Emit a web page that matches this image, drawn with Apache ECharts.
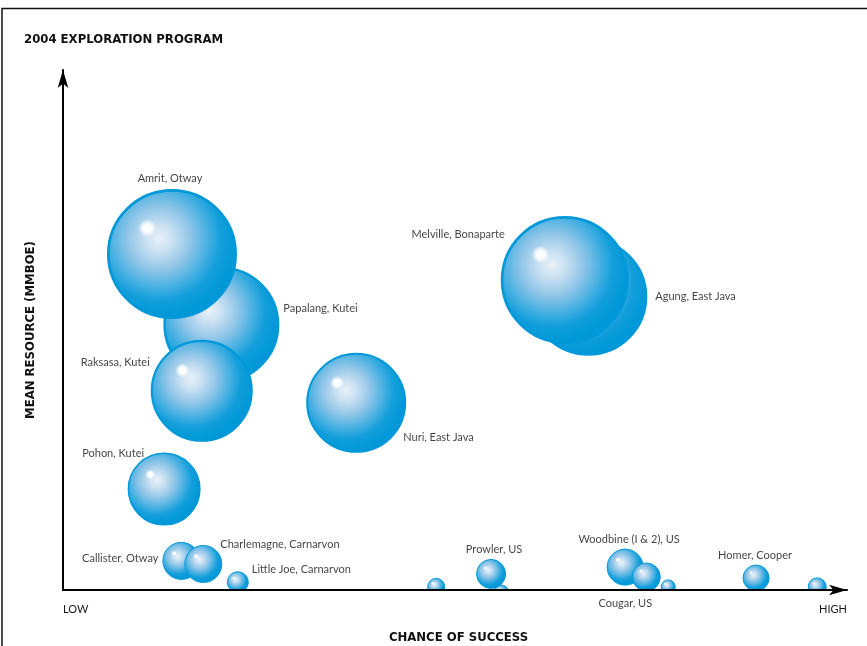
<!DOCTYPE html>
<html><head><meta charset="utf-8">
<script src="https://cdn.jsdelivr.net/npm/echarts@6/dist/echarts.min.js"></script>
<style>html,body{margin:0;padding:0;background:#fff}#c{width:867px;height:646px}</style>
</head><body><div id="c"></div>
<script>
// Draw order matters (later = on top)
const prospects = ['Papalang, Kutei','Amrit, Otway','Raksasa, Kutei','Nuri, East Java','Pohon, Kutei',
  'Agung, East Java','Melville, Bonaparte','Callister, Otway','Charlemagne, Carnarvon','Little Joe, Carnarvon',
  '','','Prowler, US','Woodbine (I & 2), US','Cougar, US','','Homer, Cooper',''];
const chanceOfSuccess = [20.2,13.9,17.7,37.4,12.9,67.0,64.0,15.1,17.9,22.3,47.6,55.9,54.6,71.7,74.4,77.2,88.4,96.2];
const meanResource    = [51.0,64.6,38.3,36.0,19.4,56.4,59.6,5.6,5.0,1.5,0.6,-0.5,3.1,4.4,2.5,0.6,2.3,0.6];
const bubbleValue     = [116,130,102,100,73,118,128,38,38,22,18,16,30,37,29,15,27,19];
const xTickLabels = ['LOW','HIGH'];

const labelCfg = {
  'Amrit, Otway': {position:'top', distance:5, offset:[-2,0]},
  'Papalang, Kutei': {position:'right', distance:4, offset:[0,-16]},
  'Raksasa, Kutei': {position:'left', distance:1, offset:[0,-28]},
  'Nuri, East Java': {position:'right', distance:0, offset:[-3,35]},
  'Pohon, Kutei': {position:'top', distance:0, offset:[-51,6]},
  'Agung, East Java': {position:'right', distance:8, offset:[0,0]},
  'Melville, Bonaparte': {position:'left', distance:0, offset:[4,-46]},
  'Callister, Otway': {position:'left', distance:4, offset:[0,-2]},
  'Charlemagne, Carnarvon': {position:'right', distance:0, offset:[-2,-20]},
  'Little Joe, Carnarvon': {position:'right', distance:3, offset:[0,-13]},
  'Prowler, US': {position:'top', distance:4, offset:[3,0]},
  'Woodbine (I & 2), US': {position:'top', distance:4, offset:[4,0]},
  'Cougar, US': {position:'bottom', distance:6, offset:[-21,0]},
  'Homer, Cooper': {position:'top', distance:4, offset:[-1,0]}
};

const chart = echarts.init(document.getElementById('c'), null, {renderer:'canvas'});
const G = echarts.graphic;
function baseFill(){
  return new G.RadialGradient(0.4, 0.38, 0.6, [
    {offset:0, color:'#e8f1f9'},
    {offset:0.15, color:'#cfe3f3'},
    {offset:0.4, color:'#92c6e8'},
    {offset:0.65, color:'#40aee1'},
    {offset:0.8, color:'#129edb'},
    {offset:1, color:'#0098d8'}
  ]);
}
function spotFill(){
  return new G.RadialGradient(0.5, 0.5, 0.5, [
    {offset:0, color:'rgba(255,255,255,1)'},
    {offset:0.45, color:'rgba(255,255,255,0.95)'},
    {offset:1, color:'rgba(255,255,255,0)'}
  ]);
}
const raw = prospects.map((n,i)=>[chanceOfSuccess[i], meanResource[i], bubbleValue[i]]);
const labelData = prospects.map((n,i)=>{
  const cfg = labelCfg[n];
  return {name:n, value:raw[i], label: cfg ? Object.assign({show:true}, cfg) : {show:false}};
});
const font = "'DejaVu Sans Condensed','Liberation Sans Narrow','DejaVu Sans',sans-serif";
const option = {
  animation:false,
  backgroundColor:'#fff',
  title:{text:'2004 EXPLORATION PROGRAM', left:19, top:28,
    textStyle:{fontFamily:font, fontWeight:'bold', fontSize:13, color:'#111'}},
  graphic:[{type:'polyline', shape:{points:[[2,646],[2,8.5],[867,8.5]]}, style:{stroke:'#111', lineWidth:1.5, fill:null}, silent:true}],
  grid:{left:63, right:20, top:70, bottom:56, outerBoundsMode:'none', containLabel:false},
  xAxis:{type:'value', min:0, max:100, interval:100, z:5,
    name:'CHANCE OF SUCCESS', nameLocation:'middle', nameGap:41,
    nameTextStyle:{fontFamily:font, fontWeight:'bold', fontSize:13, color:'#111', padding:[0,0,0,7]},
    axisLine:{show:true, lineStyle:{color:'#000', width:2}, symbol:['none','arrow'], symbolSize:[8,18]},
    axisTick:{show:false}, splitLine:{show:false},
    axisLabel:{show:true, margin:14, fontFamily:'Lato', fontSize:11, color:'#1a1a1a',
      alignMinLabel:'left', alignMaxLabel:'right',
      formatter:(v)=> v===0 ? xTickLabels[0] : (v===100 ? xTickLabels[1] : '')}
  },
  yAxis:{type:'value', min:0, max:100, z:5,
    name:'MEAN RESOURCE (MMBOE)', nameLocation:'middle', nameGap:26,
    nameTextStyle:{fontFamily:font, fontWeight:'bold', fontSize:13, color:'#111'},
    axisLine:{show:true, lineStyle:{color:'#000', width:2}, symbol:['none','arrow'], symbolSize:[8,18]},
    axisTick:{show:false}, splitLine:{show:false}, axisLabel:{show:false}
  },
  series:[{
    type:'custom', clip:true, z:2,
    encode:{x:0, y:1},
    data:raw,
    renderItem:(params, api)=>{
      const p = api.coord([api.value(0), api.value(1)]);
      const d = api.value(2);
      const lw = Math.max(1, d*0.02);
      return {type:'group', children:[
        {type:'circle', shape:{cx:p[0], cy:p[1], r:d/2 - lw/2},
          style:{fill:baseFill(), stroke:'#0098d8', lineWidth:lw}},
        {type:'circle', shape:{cx:p[0]-0.19*d, cy:p[1]-0.2*d, r:Math.max(1.5, 0.07*d)},
          style:{fill:spotFill()}}
      ]};
    }
  },{
    type:'scatter', z:3, clip:false, silent:true,
    symbolSize:(v)=>v[2],
    itemStyle:{color:'rgba(0,0,0,0)'},
    label:{fontFamily:'Lato', fontSize:11, color:'#111', formatter:'{b}'},
    emphasis:{disabled:true},
    data:labelData
  }]
};
chart.setOption(option);
</script></body></html>
